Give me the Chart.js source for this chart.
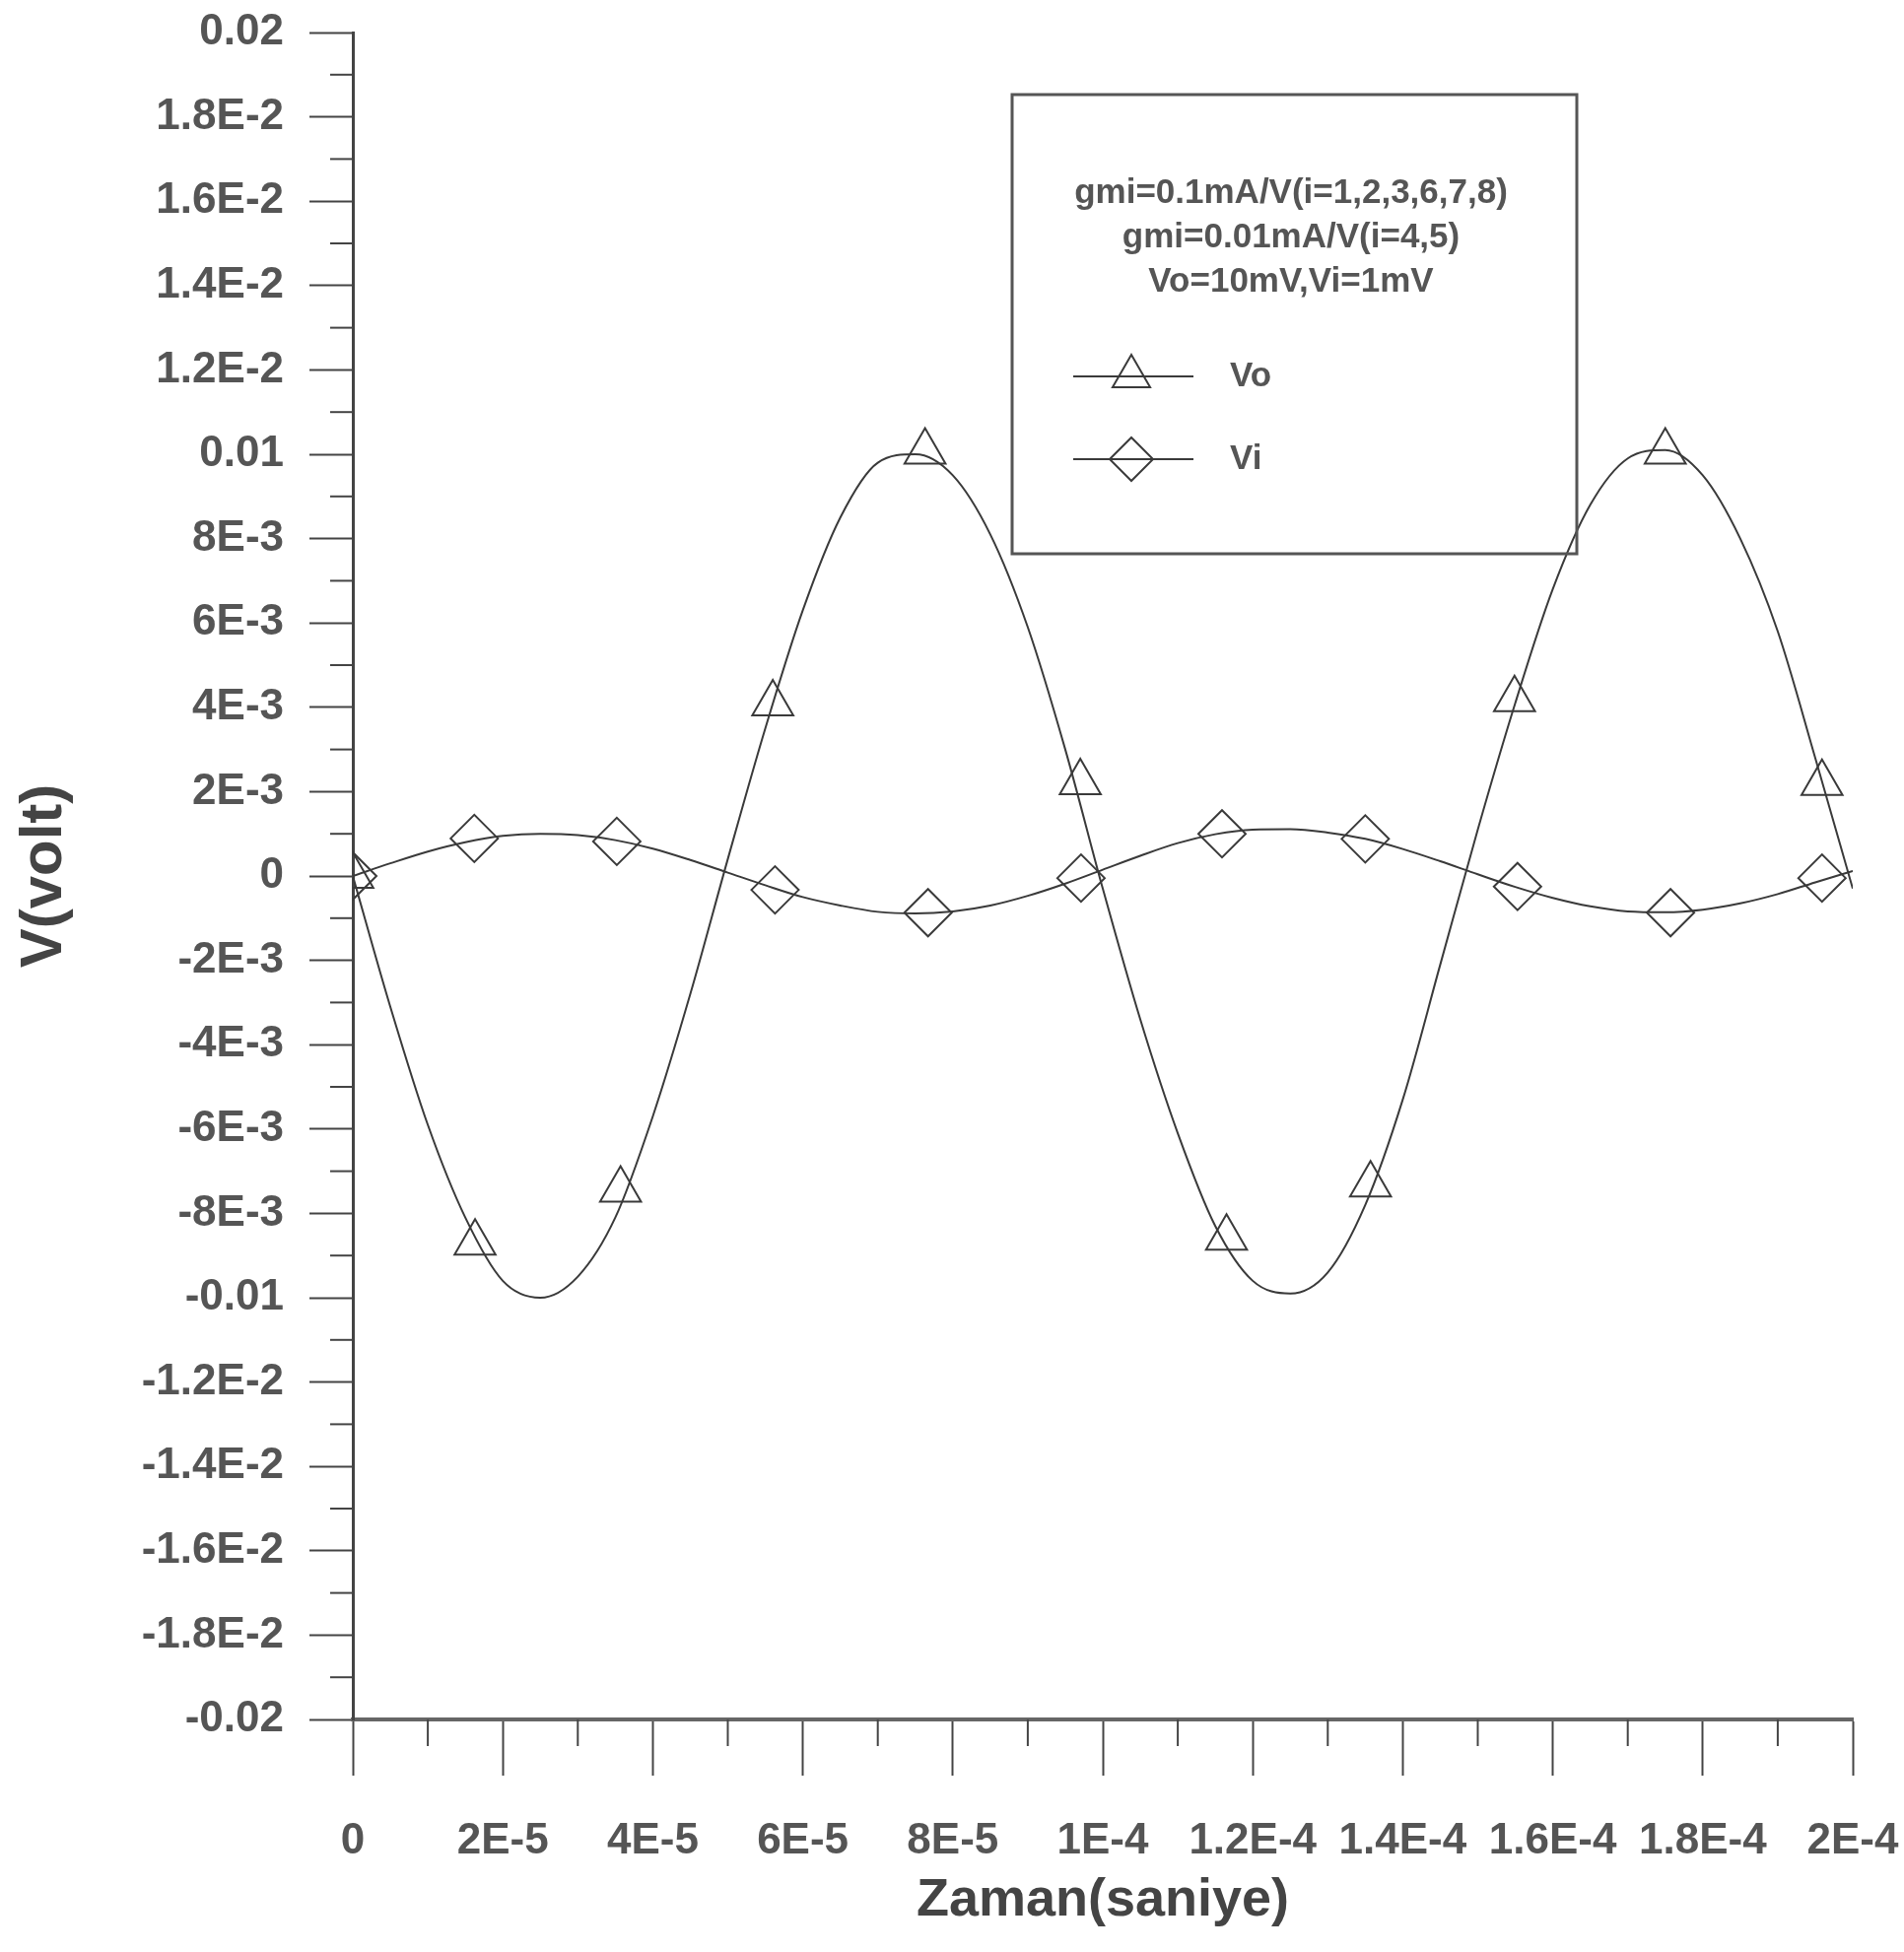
<!DOCTYPE html>
<html>
<head>
<meta charset="utf-8">
<script src="https://cdn.jsdelivr.net/npm/chart.js@4.4.1/dist/chart.umd.min.js"></script>
<style>
html,body{margin:0;padding:0;background:#fff;}
#wrap{width:1932px;height:1981px;position:relative;}
</style>
</head>
<body>
<div id="wrap"><canvas id="c" width="1932" height="1981"></canvas></div>
<script>
// ---- data ----
const timeSec = [0,5e-6,1e-5,1.5e-5,2e-5,2.5e-5,3e-5,3.5e-5,4e-5,4.5e-5,5e-5,5.5e-5,6e-5,6.5e-5,7e-5,7.5e-5,8e-5,8.5e-5,9e-5,9.5e-5,1e-4,1.05e-4,1.1e-4,1.15e-4,1.2e-4,1.25e-4,1.3e-4,1.35e-4,1.4e-4,1.45e-4,1.5e-4,1.55e-4,1.6e-4,1.65e-4,1.7e-4,1.75e-4,1.8e-4,1.85e-4,1.9e-4,1.95e-4,2e-4];
const voCurve = [0,-3.1e-3,-5.9e-3,-8.1e-3,-9.6e-3,-10.0e-3,-9.5e-3,-8.1e-3,-5.7e-3,-2.8e-3,0.4e-3,3.5e-3,6.3e-3,8.5e-3,9.8e-3,10.0e-3,9.5e-3,8.1e-3,5.9e-3,3.0e-3,-0.3e-3,-3.4e-3,-6.1e-3,-8.3e-3,-9.6e-3,-9.9e-3,-9.4e-3,-7.8e-3,-5.3e-3,-2.1e-3,1.1e-3,4.1e-3,6.8e-3,8.8e-3,9.9e-3,10.1e-3,9.5e-3,8.0e-3,5.8e-3,2.8e-3,-0.3e-3];
const viCurve = [0,0.30e-3,0.58e-3,0.80e-3,0.95e-3,1.00e-3,0.97e-3,0.85e-3,0.65e-3,0.38e-3,0.08e-3,-0.22e-3,-0.50e-3,-0.70e-3,-0.85e-3,-0.89e-3,-0.84e-3,-0.70e-3,-0.47e-3,-0.18e-3,0.15e-3,0.48e-3,0.78e-3,0.99e-3,1.10e-3,1.11e-3,1.03e-3,0.88e-3,0.64e-3,0.35e-3,0.04e-3,-0.26e-3,-0.52e-3,-0.72e-3,-0.84e-3,-0.86e-3,-0.80e-3,-0.65e-3,-0.43e-3,-0.15e-3,0.12e-3];
const voMarkTime = [0,1.63e-5,3.57e-5,5.60e-5,7.63e-5,9.70e-5,1.165e-4,1.357e-4,1.549e-4,1.750e-4,1.959e-4];
const voMarkValue = [0,-8.70e-3,-7.44e-3,4.09e-3,10.06e-3,2.22e-3,-8.58e-3,-7.32e-3,4.19e-3,10.06e-3,2.20e-3];
const viMarkTime = [0,1.62e-5,3.52e-5,5.63e-5,7.67e-5,9.71e-5,1.159e-4,1.350e-4,1.553e-4,1.757e-4,1.959e-4];
const viMarkValue = [0,0.89e-3,0.82e-3,-0.33e-3,-0.87e-3,-0.05e-3,1.00e-3,0.88e-3,-0.25e-3,-0.87e-3,-0.05e-3];
const xTickLabels = ['0','2E-5','4E-5','6E-5','8E-5','1E-4','1.2E-4','1.4E-4','1.6E-4','1.8E-4','2E-4'];
const yTickLabels = ['-0.02','-1.8E-2','-1.6E-2','-1.4E-2','-1.2E-2','-0.01','-8E-3','-6E-3','-4E-3','-2E-3','0','2E-3','4E-3','6E-3','8E-3','0.01','1.2E-2','1.4E-2','1.6E-2','1.8E-2','0.02'];
const legendNotes = ['gmi=0.1mA/V(i=1,2,3,6,7,8)','gmi=0.01mA/V(i=4,5)','Vo=10mV,Vi=1mV'];
const seriesNames = ['Vo','Vi'];
const axisTitles = {x:'Zaman(saniye)', y:'V(volt)'};
const xRange = {min:0, max:2e-4, step:2e-5};
const yRange = {min:-0.02, max:0.02, step:0.002};

// ---- build ----
const toPts = (xs, ys) => xs.map((x, i) => ({x, y: ys[i]}));
const LINE = '#3a3a3a';
const TXT = '#555';
Chart.defaults.font.family = "'Liberation Sans', Arial, sans-serif";

const decor = {
  id: 'decor',
  afterDraw(chart) {
    const ctx = chart.ctx;
    const xs = chart.scales.x, ys = chart.scales.y;
    ctx.save();
    ctx.strokeStyle = '#444';
    ctx.lineWidth = 2;
    const yt = ys.ticks;
    for (let i = 0; i < yt.length - 1; i++) {
      const p = ys.getPixelForValue((yt[i].value + yt[i+1].value) / 2);
      ctx.beginPath(); ctx.moveTo(ys.right - 23, p); ctx.lineTo(ys.right, p); ctx.stroke();
    }
    const xt = xs.ticks;
    for (let i = 0; i < xt.length - 1; i++) {
      const p = xs.getPixelForValue((xt[i].value + xt[i+1].value) / 2);
      ctx.beginPath(); ctx.moveTo(p, xs.top); ctx.lineTo(p, xs.top + 27); ctx.stroke();
    }
    // legend box (transparent, curves show through)
    ctx.strokeStyle = '#555';
    ctx.lineWidth = 3;
    ctx.strokeRect(1027, 96, 573, 466);
    ctx.fillStyle = TXT;
    ctx.font = "bold 35px 'Liberation Sans', Arial, sans-serif";
    ctx.textAlign = 'center';
    ctx.textBaseline = 'middle';
    const noteY = [196, 241, 286];
    legendNotes.forEach((t, i) => ctx.fillText(t, 1310, noteY[i]));
    const entries = [
      {name: seriesNames[0], style: 'triangle', y: 382},
      {name: seriesNames[1], style: 'rectRot', y: 466}
    ];
    entries.forEach(e => {
      ctx.strokeStyle = LINE;
      ctx.lineWidth = 2;
      ctx.beginPath(); ctx.moveTo(1089, e.y); ctx.lineTo(1211, e.y); ctx.stroke();
      ctx.fillStyle = 'rgba(0,0,0,0)';
      Chart.helpers.drawPoint(ctx, {pointStyle: e.style, radius: 22, rotation: 0, borderWidth: 2}, 1148, e.y);
      ctx.fillStyle = TXT;
      ctx.textAlign = 'left';
      ctx.fillText(e.name, 1248, e.y);
    });
    ctx.restore();
  }
};

new Chart(document.getElementById('c'), {
  type: 'scatter',
  data: {
    datasets: [
      {label: seriesNames[0], data: toPts(timeSec, voCurve), showLine: true, pointRadius: 0, borderColor: LINE, borderWidth: 2, cubicInterpolationMode: 'monotone', fill: false},
      {label: seriesNames[1], data: toPts(timeSec, viCurve), showLine: true, pointRadius: 0, borderColor: LINE, borderWidth: 2, cubicInterpolationMode: 'monotone', fill: false},
      {label: seriesNames[0] + ' markers', data: toPts(voMarkTime, voMarkValue), showLine: false, pointStyle: 'triangle', pointRadius: 24, pointBorderWidth: 2, pointBorderColor: LINE, pointBackgroundColor: 'rgba(0,0,0,0)'},
      {label: seriesNames[1] + ' markers', data: toPts(viMarkTime, viMarkValue), showLine: false, pointStyle: 'rectRot', pointRadius: 24, pointBorderWidth: 2, pointBorderColor: LINE, pointBackgroundColor: 'rgba(0,0,0,0)'}
    ]
  },
  options: {
    responsive: false,
    devicePixelRatio: 1,
    animation: false,
    layout: {padding: {top: 33, right: 52, left: 0, bottom: 0}},
    plugins: {legend: {display: false}, tooltip: {enabled: false}},
    scales: {
      x: {
        type: 'linear', position: 'bottom', min: xRange.min, max: xRange.max,
        ticks: {stepSize: xRange.step, autoSkip: false, maxRotation: 0, minRotation: 0, padding: 40, color: TXT,
          font: {size: 44, weight: 'bold'},
          callback: v => xTickLabels[Math.round((v - xRange.min) / xRange.step)]},
        grid: {drawOnChartArea: false, drawTicks: true, tickLength: 57, tickWidth: 2, tickColor: '#444'},
        border: {display: true, color: '#666', width: 4},
        title: {display: true, text: axisTitles.x, color: '#444', font: {size: 54, weight: 'bold'}, padding: {top: 0, bottom: 19}},
        afterFit: s => { s.height = 236; s.paddingLeft = 0; s.paddingRight = 0; }
      },
      y: {
        type: 'linear', position: 'left', min: yRange.min, max: yRange.max,
        ticks: {stepSize: yRange.step, autoSkip: false, padding: 26, color: TXT,
          font: {size: 44, weight: 'bold'},
          callback: v => yTickLabels[Math.round((v - yRange.min) / yRange.step)]},
        grid: {drawOnChartArea: false, drawTicks: true, tickLength: 44, tickWidth: 2, tickColor: '#444'},
        border: {display: true, color: '#444', width: 3},
        title: {display: true, text: axisTitles.y, color: '#444', font: {size: 60, weight: 'bold'}, padding: {top: 9, bottom: 0}},
        afterFit: s => { s.width = 358; s.paddingTop = 0; s.paddingBottom = 0; }
      }
    }
  },
  plugins: [decor]
});
</script>
</body>
</html>
